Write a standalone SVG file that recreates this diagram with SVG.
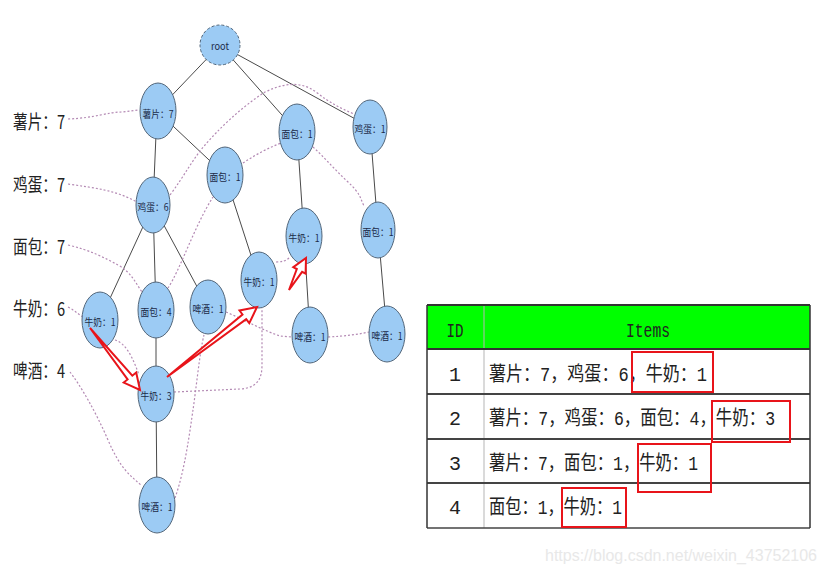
<svg xmlns="http://www.w3.org/2000/svg" width="826" height="578" viewBox="0 0 826 578">
<defs>
<style>
.bg{fill:#ffffff}
.tree line{stroke:#4a4a4a;stroke-width:1}
.link path{fill:none;stroke:#b48ab4;stroke-width:1.2;stroke-dasharray:2 2}
.node ellipse{fill:#9ccbf4;stroke:#52667a;stroke-width:1}
.node text{font-family:"Noto Sans CJK SC","Liberation Sans",sans-serif;font-size:10px;fill:#1b2a48;text-anchor:middle;dominant-baseline:central}
.lbl{font-family:"Noto Sans CJK SC","Liberation Serif",serif;font-size:19px;fill:#222;dominant-baseline:central}
.arrow{fill:#ffffff;stroke:#e8141a;stroke-width:2;stroke-linejoin:miter}
.cell{font-family:"Liberation Mono","Noto Sans CJK SC",monospace;font-size:20px;fill:#222;dominant-baseline:central}
.hl{fill:none;stroke:#e8141a;stroke-width:2}
</style>
</defs>
<rect class="bg" x="0" y="0" width="826" height="578"/>

<g id="left-labels">
<text class="lbl" x="13" y="120" textLength="52" lengthAdjust="spacingAndGlyphs">薯片：7</text>
<text class="lbl" x="13" y="183" textLength="52" lengthAdjust="spacingAndGlyphs">鸡蛋：7</text>
<text class="lbl" x="13" y="245" textLength="52" lengthAdjust="spacingAndGlyphs">面包：7</text>
<text class="lbl" x="13" y="307" textLength="52" lengthAdjust="spacingAndGlyphs">牛奶：6</text>
<text class="lbl" x="13" y="369" textLength="52" lengthAdjust="spacingAndGlyphs">啤酒：4</text>
</g>

<g id="connectors">
<g class="tree">
<line x1="220" y1="45" x2="157" y2="111"/>
<line x1="220" y1="45" x2="297" y2="132"/>
<line x1="220" y1="45" x2="370" y2="127"/>
<line x1="157" y1="111" x2="153" y2="205"/>
<line x1="157" y1="111" x2="225" y2="175"/>
<line x1="153" y1="205" x2="100" y2="320"/>
<line x1="153" y1="205" x2="156" y2="310"/>
<line x1="153" y1="205" x2="208" y2="307"/>
<line x1="156" y1="310" x2="156" y2="394"/>
<line x1="156" y1="394" x2="157" y2="505"/>
<line x1="225" y1="175" x2="259" y2="280"/>
<line x1="297" y1="132" x2="304" y2="236"/>
<line x1="304" y1="236" x2="310" y2="335"/>
<line x1="370" y1="127" x2="378" y2="230"/>
<line x1="378" y1="230" x2="387" y2="334"/>
</g>
<g class="link">
<path d="M68,119 C95,118 108,112 122,112 L139,110"/>
<path d="M68,184 C95,188 115,190 137,202"/>
<path d="M170,195 C185,175 192,160 205,145 S240,108 265,92 C282,84 300,80 316,92 C330,103 340,108 354,114"/>
<path d="M68,245 C90,250 105,258 118,265 S135,282 142,292"/>
<path d="M168,288 C180,270 195,225 213,197"/>
<path d="M243,163 C255,155 268,148 281,143"/>
<path d="M313,147 C325,158 335,170 348,182 S360,198 364,206"/>
<path d="M68,307 C74,310 78,314 83,317"/>
<path d="M115,340 C125,343 132,355 139,375"/>
<path d="M174,392 L240,389 C258,388 262,378 262,365 L262,308"/>
<path d="M276,262 C282,262 286,261 290,257"/>
<path d="M70,372 C80,385 95,410 108,440 S130,475 142,486"/>
<path d="M175,498 C185,470 190,430 193,410 S200,350 204,335"/>
<path d="M226,312 C245,320 262,330 280,336 L292,337"/>
<path d="M328,337 C345,336 355,335 369,332"/>
</g>
</g>

<g id="n-root" class="node"><ellipse cx="220" cy="45" rx="20" ry="20" style="stroke-dasharray:3 2"/><text x="220" y="45" textLength="18" lengthAdjust="spacingAndGlyphs">root</text></g>
<g id="n-sp7" class="node"><ellipse cx="158" cy="111" rx="18" ry="28"/><text x="158" y="113" textLength="31" lengthAdjust="spacingAndGlyphs">薯片：7</text></g>
<g id="n-jd6" class="node"><ellipse cx="153" cy="205" rx="17" ry="28"/><text x="153" y="206" textLength="31" lengthAdjust="spacingAndGlyphs">鸡蛋：6</text></g>
<g id="n-mb1a" class="node"><ellipse cx="225" cy="175" rx="18" ry="28"/><text x="225" y="176" textLength="31" lengthAdjust="spacingAndGlyphs">面包：1</text></g>
<g id="n-mb1b" class="node"><ellipse cx="297" cy="132" rx="18" ry="28"/><text x="297" y="133" textLength="31" lengthAdjust="spacingAndGlyphs">面包：1</text></g>
<g id="n-jd1" class="node"><ellipse cx="370" cy="127" rx="17" ry="27"/><text x="370" y="128" textLength="31" lengthAdjust="spacingAndGlyphs">鸡蛋：1</text></g>
<g id="n-nn1a" class="node"><ellipse cx="100" cy="320" rx="18" ry="28"/><text x="100" y="321" textLength="31" lengthAdjust="spacingAndGlyphs">牛奶：1</text></g>
<g id="n-mb4" class="node"><ellipse cx="156" cy="310" rx="18" ry="28"/><text x="156" y="311" textLength="31" lengthAdjust="spacingAndGlyphs">面包：4</text></g>
<g id="n-pj1a" class="node"><ellipse cx="208" cy="307" rx="18" ry="27"/><text x="208" y="308" textLength="31" lengthAdjust="spacingAndGlyphs">啤酒：1</text></g>
<g id="n-nn1b" class="node"><ellipse cx="259" cy="280" rx="18" ry="28"/><text x="259" y="281" textLength="31" lengthAdjust="spacingAndGlyphs">牛奶：1</text></g>
<g id="n-nn1c" class="node"><ellipse cx="304" cy="236" rx="18" ry="28"/><text x="304" y="237" textLength="31" lengthAdjust="spacingAndGlyphs">牛奶：1</text></g>
<g id="n-mb1c" class="node"><ellipse cx="378" cy="230" rx="17" ry="28"/><text x="378" y="231" textLength="31" lengthAdjust="spacingAndGlyphs">面包：1</text></g>
<g id="n-pj1b" class="node"><ellipse cx="310" cy="335" rx="18" ry="28"/><text x="310" y="336" textLength="31" lengthAdjust="spacingAndGlyphs">啤酒：1</text></g>
<g id="n-pj1c" class="node"><ellipse cx="387" cy="334" rx="18" ry="28"/><text x="387" y="335" textLength="31" lengthAdjust="spacingAndGlyphs">啤酒：1</text></g>
<g id="n-nn3" class="node"><ellipse cx="156" cy="394" rx="18" ry="28"/><text x="156" y="395" textLength="31" lengthAdjust="spacingAndGlyphs">牛奶：3</text></g>
<g id="n-pj1d" class="node"><ellipse cx="157" cy="505" rx="18" ry="28"/><text x="157" y="506" textLength="31" lengthAdjust="spacingAndGlyphs">啤酒：1</text></g>

<g id="red-arrows">
<polygon class="arrow" points="90,328 127.6,379.4 123.7,382.6 140,390 136.2,372.5 132.3,375.7"/>
<polygon class="arrow" points="167,377 246.2,319.2 249.3,323.1 257,307 239.5,310.5 242.5,314.5"/>
<polygon class="arrow" points="289,290 302.1,271.8 305.6,273.6 306,258 293.3,267.1 296.8,269.0"/>
</g>

<g id="table">
<rect x="427" y="305" width="383" height="44" fill="#00ff00"/>
<line x1="484" y1="305" x2="484" y2="528" stroke="#b5b5b5" stroke-width="1"/>
<line x1="427" y1="305" x2="810" y2="305" stroke="#333" stroke-width="2"/>
<line x1="427" y1="349" x2="810" y2="349" stroke="#333" stroke-width="2"/>
<line x1="427" y1="394" x2="810" y2="394" stroke="#444" stroke-width="2"/>
<line x1="427" y1="439" x2="810" y2="439" stroke="#444" stroke-width="2"/>
<line x1="427" y1="483" x2="810" y2="483" stroke="#444" stroke-width="2"/>
<line x1="427" y1="528" x2="810" y2="528" stroke="#444" stroke-width="1.5"/>
<line x1="427" y1="305" x2="427" y2="528" stroke="#333" stroke-width="1.5"/>
<line x1="810" y1="305" x2="810" y2="528" stroke="#333" stroke-width="1.5"/>
<text class="cell" x="455" y="331" text-anchor="middle" textLength="17" lengthAdjust="spacingAndGlyphs">ID</text>
<text class="cell" x="648" y="331" text-anchor="middle" textLength="44" lengthAdjust="spacingAndGlyphs">Items</text>
<text class="cell" x="455" y="375" text-anchor="middle">1</text>
<text class="cell" x="455" y="419" text-anchor="middle">2</text>
<text class="cell" x="455" y="464" text-anchor="middle">3</text>
<text class="cell" x="455" y="508" text-anchor="middle">4</text>
<text class="cell" x="489" y="375" textLength="218" lengthAdjust="spacingAndGlyphs">薯片：7，鸡蛋：6，牛奶：1</text>
<text class="cell" x="489" y="419" textLength="286" lengthAdjust="spacingAndGlyphs">薯片：7，鸡蛋：6，面包：4，牛奶：3</text>
<text class="cell" x="489" y="464" textLength="209" lengthAdjust="spacingAndGlyphs">薯片：7，面包：1，牛奶：1</text>
<text class="cell" x="489" y="508" textLength="133" lengthAdjust="spacingAndGlyphs">面包：1，牛奶：1</text>
<rect class="hl" x="632" y="352" width="81" height="40"/>
<rect class="hl" x="712" y="401" width="78" height="41"/>
<rect class="hl" x="638" y="444" width="73" height="48"/>
<rect class="hl" x="562" y="488" width="64" height="39"/>
</g>

<text x="545" y="561" font-family="Liberation Sans, Arial, sans-serif" font-size="16" fill="#e8e8e8" textLength="272" lengthAdjust="spacingAndGlyphs">https://blog.csdn.net/weixin_43752106</text>
</svg>
